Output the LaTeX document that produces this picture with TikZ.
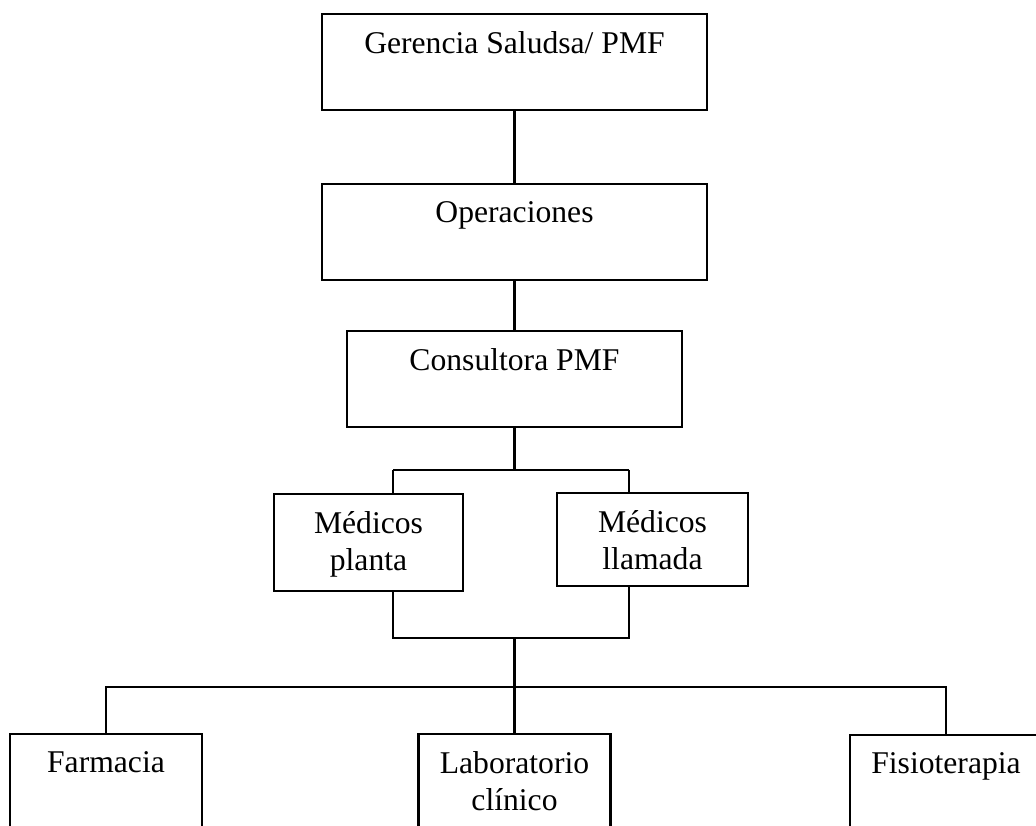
\documentclass[tikz,border=0pt]{standalone}
\usepackage{fontspec}
\setmainfont{Liberation Serif}
\usetikzlibrary{positioning}

\begin{document}
\begin{tikzpicture}[
    node distance=1cm,
    box/.style={rectangle, draw=black, line width=1.2pt, minimum height=1.92cm},
    txt/.style={anchor=north, inner sep=0pt, align=center, yshift=-10.5pt, font=\fontsize{18}{21}\selectfont},
    line/.style={line width=1.2pt}
]
\useasboundingbox (0,0) rectangle (20.72,-16.52);
\clip (0,0) rectangle (20.72,-16.52);

% Management
\node[box, minimum width=7.7cm, label={[txt]north:Gerencia Saludsa/ PMF}] (ger) at (10.29,-1.24) {};

% Operations
\node[box, minimum width=7.7cm, below=1.44cm of ger, label={[txt]north:Operaciones}] (ope) {};

% Consultancy
\node[box, minimum width=6.7cm, below=0.98cm of ope, label={[txt]north:Consultora PMF}] (con) {};

% Doctors
\node[box, minimum width=3.78cm, minimum height=1.94cm, label={[txt]north:Médicos\\planta}] (mpl) at (7.37,-10.85) {};
\node[box, minimum width=3.82cm, minimum height=1.86cm, label={[txt]north:Médicos\\llamada}] (mll) at (13.05,-10.79) {};

% Services
\node[box, anchor=north, minimum width=3.84cm, minimum height=2.4cm, label={[txt]north:Farmacia}] (far) at (2.12,-14.66) {};
\node[box, anchor=north, minimum width=3.84cm, minimum height=2.4cm, label={[txt]north:Laboratorio\\clínico}] (lab) at (10.29,-14.66) {};
\node[box, anchor=north, minimum width=3.84cm, minimum height=2.4cm, label={[txt]north:Fisioterapia}] (fis) at (18.92,-14.68) {};

% Junctions
\coordinate (j1) at (10.29,-9.40);
\coordinate (jl) at (7.86,-9.40);
\coordinate (jr) at (12.58,-9.40);
\coordinate (k1) at (10.29,-12.76);
\coordinate (kl) at (7.86,-12.76);
\coordinate (kr) at (12.58,-12.76);
\coordinate (m1) at (10.29,-13.74);

% Lines
\draw[line] (ger) -- (ope);
\draw[line] (ope) -- (con);
\draw[line] (con) -- (j1);
\draw[line] (jl) -- (jr);
\draw[line] (jl) -- (jl |- mpl.north);
\draw[line] (jr) -- (jr |- mll.north);
\draw[line] (jl |- mpl.south) -- (kl) -- (kr) -- (jr |- mll.south);
\draw[line] (k1) -- (lab);
\draw[line] (far.north) -- (far.north |- m1) -- (fis.north |- m1) -- (fis.north);

\end{tikzpicture}
\end{document}
